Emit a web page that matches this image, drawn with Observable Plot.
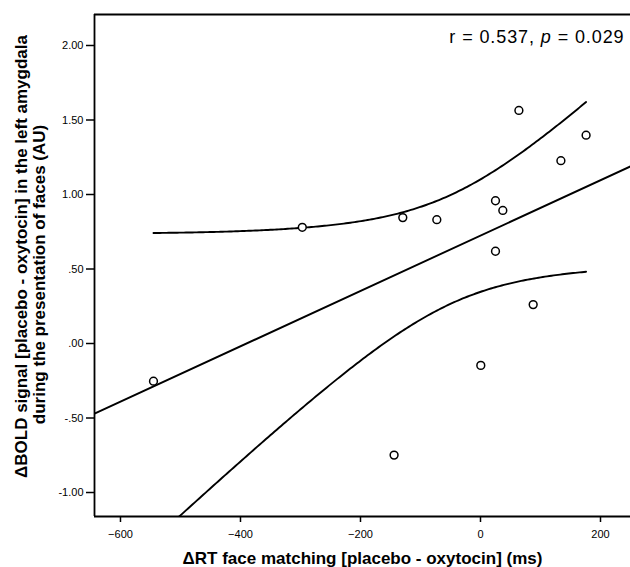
<!DOCTYPE html>
<html>
<head>
<meta charset="utf-8">
<script src="https://cdn.jsdelivr.net/npm/d3@7"></script>
<script src="https://cdn.jsdelivr.net/npm/@observablehq/plot@0.6"></script>
<style>
  html, body { margin: 0; padding: 0; background: #fff; }
  #chart { width: 630px; height: 567px; }
</style>
</head>
<body>
<div id="chart"></div>
<script>
// ---- data ----
const rtDiff   = [-545, -297, -129.5, -72.8, 25, 37.2, 64, 134, 176, 25, 87.8, 0.5, -144];
const boldDiff = [-0.253, 0.78, 0.845, 0.831, 0.958, 0.893, 1.564, 1.227, 1.398, 0.619, 0.261, -0.147, -0.749];

const xTicks = [-600, -400, -200, 0, 200];
const yTicks = [-1, -0.5, 0, 0.5, 1, 1.5, 2];
const yTickLabels = ["-1.00", "-.50", ".00", ".50", "1.00", "1.50", "2.00"];

const xTitle = "ΔRT face matching [placebo - oxytocin] (ms)";
const yTitle1 = "ΔBOLD signal [placebo - oxytocin] in the left amygdala";
const yTitle2 = "during the presentation of faces (AU)";
const annot = "r = 0.537, p = 0.029";

const xDomain = [-643.3, 250];
const yDomain = [-1.161, 2.208];

// ---- linear regression with 95% CI of the mean ----
const pts = rtDiff.map((x, i) => ({x, y: boldDiff[i]}));
const n = pts.length;
const mx = d3.mean(rtDiff), my = d3.mean(boldDiff);
const sxx = d3.sum(rtDiff, x => (x - mx) ** 2);
const sxy = d3.sum(pts, d => (d.x - mx) * (d.y - my));
const syy = d3.sum(boldDiff, y => (y - my) ** 2);
const slope = sxy / sxx;
const intercept = my - slope * mx;
const s = Math.sqrt((syy - sxy * sxy / sxx) / (n - 2));
const tCrit = 2.201; // t(0.975, df = 11)
const fit = x => intercept + slope * x;
const half = x => tCrit * s * Math.sqrt(1 / n + (x - mx) ** 2 / sxx);

const fitLine = xDomain.map(x => ({x, y: fit(x)}));
const xmin = d3.min(rtDiff), xmax = d3.max(rtDiff);
const grid = d3.range(0, 201).map(i => xmin + (xmax - xmin) * i / 200);
const upper = grid.map(x => ({x, y: fit(x) + half(x)}));
const lower = grid.map(x => ({x, y: fit(x) - half(x)}));

const labelOf = new Map(yTicks.map((t, i) => [t, yTickLabels[i]]));

const font = "'Liberation Sans', Arial, Helvetica, sans-serif";

const plot = Plot.plot({
  width: 630,
  height: 567,
  marginLeft: 94,
  marginRight: 0,
  marginTop: 14,
  marginBottom: 51,
  style: {fontFamily: font, fontSize: "11px", color: "#000", background: "#fff", overflow: "visible"},
  x: {domain: xDomain},
  y: {domain: yDomain},
  marks: [
    Plot.axisX({ticks: xTicks, tickSize: 6, tickPadding: 8, label: null, stroke: "#000", strokeWidth: 1.5,
      fill: "#000", fontSize: 11}),
    Plot.axisY({ticks: yTicks, tickSize: 8, tickPadding: 3, label: null, stroke: "#000", strokeWidth: 1.5,
      fill: "#000", fontSize: 11, tickFormat: d => labelOf.get(d)}),
    Plot.line(fitLine, {x: "x", y: "y", stroke: "#000", strokeWidth: 1.9, clip: true}),
    Plot.line(upper, {x: "x", y: "y", stroke: "#000", strokeWidth: 1.9, clip: true, curve: "linear"}),
    Plot.line(lower, {x: "x", y: "y", stroke: "#000", strokeWidth: 1.9, clip: true, curve: "linear"}),
    Plot.dot(pts, {x: "x", y: "y", r: 3.9, stroke: "#000", strokeWidth: 1.5, fill: "#fff"}),
    Plot.ruleX([xDomain[0]], {stroke: "#000", strokeWidth: 1.8}),
    Plot.ruleY([yDomain[0], yDomain[1]], {stroke: "#000", strokeWidth: 1.8}),
    Plot.text([annot], {text: d => d, frameAnchor: "top-right", textAnchor: "end", lineAnchor: "middle",
      dx: -6, dy: 23, fontSize: 18, fill: "#000", fontFamily: font}),
    Plot.text([xTitle], {text: d => d, frameAnchor: "bottom", textAnchor: "middle", lineAnchor: "middle",
      dy: 42, fontSize: 17, fontWeight: "bold", fill: "#000", fontFamily: font}),
    Plot.text([yTitle1], {text: d => d, frameAnchor: "left", rotate: -90, textAnchor: "middle", lineAnchor: "middle",
      dx: -72.7, dy: -9, fontSize: 17, fontWeight: "bold", fill: "#000", fontFamily: font}),
    Plot.text([yTitle2], {text: d => d, frameAnchor: "left", rotate: -90, textAnchor: "middle", lineAnchor: "middle",
      dx: -55, dy: 9, fontSize: 17, fontWeight: "bold", fill: "#000", fontFamily: font})
  ]
});

// italic "p" in the annotation
d3.select(plot).selectAll("text").filter(function () { return this.textContent === annot; })
  .each(function () {
    const t = d3.select(this);
    t.text(null).attr("letter-spacing", "0.9px");
    t.append("tspan").text("r = 0.537, ");
    t.append("tspan").attr("font-style", "italic").text("p");
    t.append("tspan").text(" = 0.029");
  });

document.getElementById("chart").appendChild(plot);
</script>
</body>
</html>
